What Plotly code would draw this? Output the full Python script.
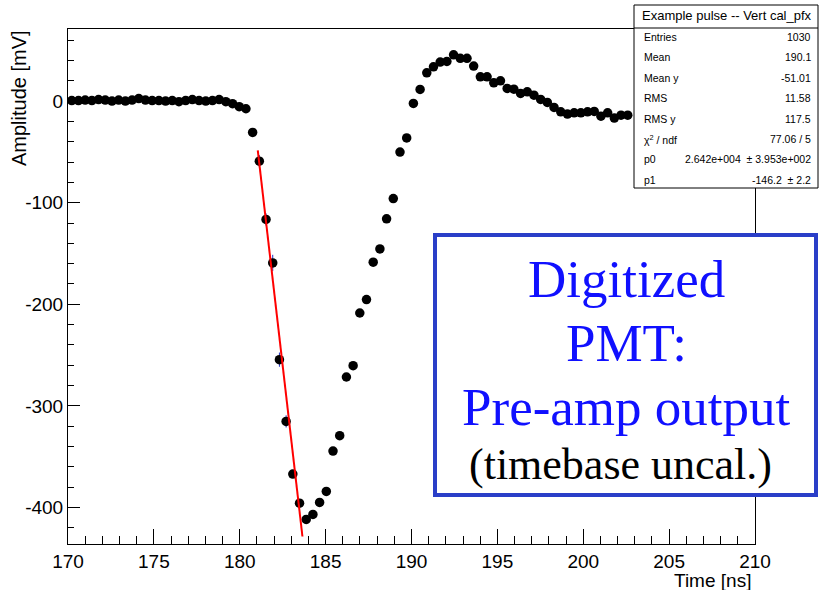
import plotly.graph_objects as go

# ---------------- data ----------------
time_ns = [170.22, 170.61, 171.00, 171.39, 171.78, 172.17, 172.56, 172.95, 173.34, 173.73,
           174.12, 174.51, 174.90, 175.29, 175.68, 176.07, 176.46, 176.85, 177.24, 177.63,
           178.02, 178.41, 178.80, 179.19, 179.58, 179.97, 180.36,
           180.75, 181.14, 181.53, 181.92, 182.31, 182.70, 183.09, 183.48, 183.87, 184.26,
           184.65, 185.04, 185.43, 185.82, 186.21, 186.60, 186.99, 187.38, 187.77, 188.16,
           188.55, 188.94, 189.33,
           189.72, 190.11, 190.50, 190.89, 191.28, 191.67, 192.06, 192.45, 192.84, 193.23,
           193.62, 194.01, 194.40, 194.79, 195.18, 195.57, 195.96, 196.35, 196.74, 197.13,
           197.52, 197.91, 198.30, 198.69, 199.08, 199.47, 199.86, 200.25, 200.64, 201.03,
           201.42, 201.81, 202.20, 202.59]
amp_mV = [0.5, 0.5, 1.0, 0.5, 1.5, 1.0, 0.0, 1.0, 0.0, 1.0,
          2.5, 1.0, 0.5, 0.5, 0.0, 0.5, -0.5, 0.5, 1.5, 0.5,
          0.0, 0.5, 1.5, -0.5, -2.5, -5.5, -7.5,
          -30.8, -59.1, -116.5, -159.3, -254.5, -315.3, -367.2, -395.8, -411.8, -406.9,
          -395.1, -384.2, -344.5, -329.4, -271.6, -260.4, -208.6, -195.4, -158.6, -145.5,
          -115.9, -95.9, -50.2,
          -36.2, -2.3, 11.5, 27.9, 33.8, 38.4, 39.1, 45.6, 42.1, 42.1,
          34.5, 23.9, 23.9, 18.0, 20.0, 12.5, 11.8, 7.6, 9.2, 5.9,
          1.7, -1.3, -6.2, -10.5, -12.8, -11.5, -11.5, -10.5, -10.1, -14.8,
          -11.5, -16.7, -13.8, -13.8]
amp_err = [0] * 28 + [6, 6, 8, 7, 6, 3, 3] + [0] * (len(amp_mV) - 35)

fit_p0 = 26421.0
fit_p1 = -146.2
fit_range = [181.05, 183.65]

y_tick_vals = [0, -100, -200, -300, -400]
y_tick_text = ["0", "-100", "-200", "-300", "-400"]

stats_title = "Example pulse -- Vert cal_pfx"
stats_labels = ["Entries", "Mean", "Mean y", "RMS", "RMS y", "χ<sup>2</sup> / ndf", "p0", "p1"]
stats_values = ["1030", "190.1", "-51.01", "11.58", "117.5", "77.06 / 5",
                "2.642e+004  ± 3.953e+002", "-146.2  ± 2.2"]

box_lines = ["Digitized", "PMT:", "Pre-amp output"]
box_last = "(timebase uncal.)"

# ---------------- figure ----------------
W, H = 819, 590
L, R, T, B = 68, 755, 29, 544


def px(x):
    return (x - L) / (R - L)


def py(y):
    return (B - y) / (B - T)


fig = go.Figure()
fig.add_trace(go.Scatter(
    x=time_ns, y=amp_mV, mode="markers",
    marker=dict(color="black", size=9.5),
    error_y=dict(type="data", array=amp_err, color="#2030c0", thickness=1, width=0),
    showlegend=False, cliponaxis=False))

fx = [fit_range[0], fit_range[1]]
fy = [fit_p0 + fit_p1 * v for v in fx]
fig.add_trace(go.Scatter(x=fx, y=fy, mode="lines",
                         line=dict(color="#ff0000", width=2), showlegend=False))

axis_font = dict(family="Liberation Sans", size=19, color="black")
fig.update_xaxes(range=[170, 210], tick0=170, dtick=5, ticks="inside", ticklen=15,
                 tickcolor="black", tickwidth=1,
                 minor=dict(dtick=1, tick0=170, ticks="inside", ticklen=8, tickcolor="black"),
                 showline=True, linecolor="black", linewidth=1, mirror=True,
                 showgrid=False, zeroline=False, tickfont=axis_font)
fig.update_yaxes(range=[-436, 71], tickmode="array", tickvals=y_tick_vals,
                 ticktext=y_tick_text, ticks="inside", ticklen=12,
                 tickcolor="black", tickwidth=1,
                 minor=dict(dtick=20, tick0=0, ticks="inside", ticklen=6, tickcolor="black"),
                 showline=True, linecolor="black", linewidth=1, mirror=True,
                 showgrid=False, zeroline=False, tickfont=axis_font)

shapes = []
annos = []

# axis titles
annos.append(dict(x=px(753), y=py(580), xref="paper", yref="paper", text="Time [ns]",
                  showarrow=False, xanchor="right", yanchor="middle",
                  font=dict(family="Liberation Sans", size=19, color="black")))
annos.append(dict(x=px(19), y=py(28), xref="paper", yref="paper", text="Amplitude [mV]",
                  showarrow=False, xanchor="center", yanchor="top", textangle=-90,
                  font=dict(family="Liberation Sans", size=20, color="black")))

# stats box
shapes.append(dict(type="rect", xref="paper", yref="paper", x0=px(634), x1=px(818),
                   y0=py(188), y1=py(5), fillcolor="white", line=dict(color="black", width=1),
                   layer="above"))
shapes.append(dict(type="line", xref="paper", yref="paper", x0=px(634), x1=px(818),
                   y0=py(28), y1=py(28), line=dict(color="black", width=1), layer="above"))
annos.append(dict(x=px(727), y=py(16), xref="paper", yref="paper", text=stats_title,
                  showarrow=False, xanchor="center", yanchor="middle",
                  font=dict(family="Liberation Sans", size=13, color="black")))
for i, (lab, val) in enumerate(zip(stats_labels, stats_values)):
    yy = 37 + i * 20.4
    annos.append(dict(x=px(642), y=py(yy), xref="paper", yref="paper", text=lab,
                      showarrow=False, xanchor="left", yanchor="middle",
                      font=dict(family="Liberation Sans", size=10.5, color="black")))
    annos.append(dict(x=px(813), y=py(yy), xref="paper", yref="paper", text=val,
                      showarrow=False, xanchor="right", yanchor="middle",
                      font=dict(family="Liberation Sans", size=10.5, color="black")))

# blue annotation box
shapes.append(dict(type="rect", xref="paper", yref="paper", x0=px(435), x1=px(816),
                   y0=py(495), y1=py(235), fillcolor="white",
                   line=dict(color="#2a3ec8", width=4), layer="above"))
for i, t in enumerate(box_lines):
    annos.append(dict(x=px(626), y=py(279 + i * 64), xref="paper", yref="paper", text=t,
                      showarrow=False, xanchor="center", yanchor="middle",
                      font=dict(family="Liberation Serif", size=53, color="#1010ff")))
annos.append(dict(x=px(620), y=py(465), xref="paper", yref="paper", text=box_last,
                  showarrow=False, xanchor="center", yanchor="middle",
                  font=dict(family="Liberation Serif", size=44, color="black")))

fig.update_layout(width=W, height=H, margin=dict(l=L, r=W - R, t=T, b=H - B),
                  paper_bgcolor="white", plot_bgcolor="white",
                  shapes=shapes, annotations=annos, showlegend=False)

fig.write_html("out.html")
